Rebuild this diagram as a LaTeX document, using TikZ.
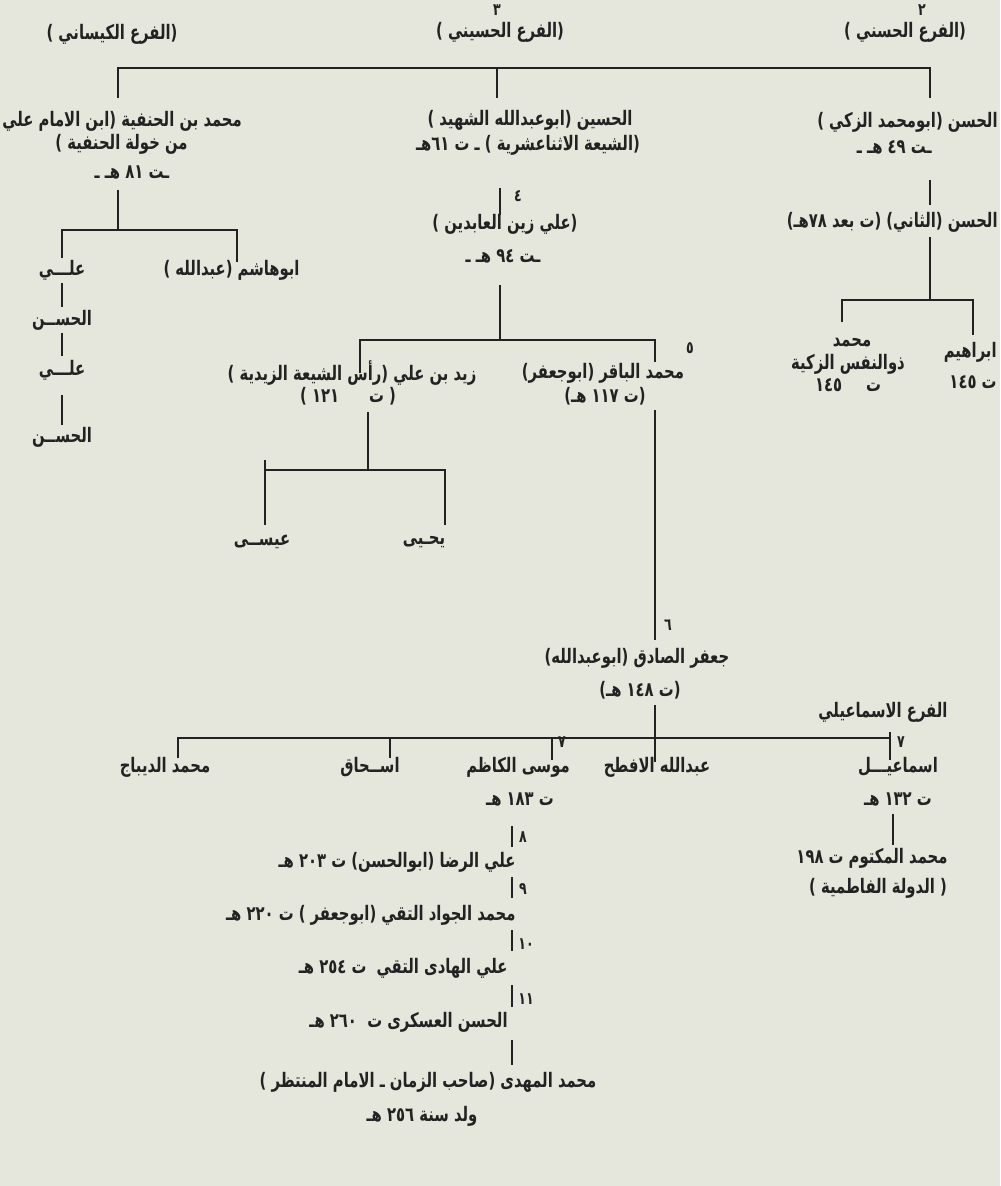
\documentclass[tikz,border=0pt]{standalone}
\usepackage{fontspec}
\TeXXeTstate=1
\newfontfamily\ar[Script=Arabic, FakeStretch=0.74]{DejaVu Sans}
\definecolor{paper}{HTML}{E5E6DC}
\definecolor{ink}{HTML}{222222}
\newcommand\AR[1]{\beginR #1\endR}
\begin{document}
\begin{tikzpicture}[x=0.5pt,y=-0.5pt,
  t/.style={font=\ar\bfseries\fontsize{10}{11}\selectfont, text=ink, inner sep=0pt},
  num/.style={font=\ar\bfseries\fontsize{8.5}{9}\selectfont, text=ink, inner sep=0pt},
  ln/.style={draw=ink, line width=1pt}]
\fill[paper] (0,0) rectangle (1000,1186);
\useasboundingbox (0,0) rectangle (1000,1186);

% top labels
\node[num] (n2) at (922,10) {\AR{٢}};
\node[t] (lab2) at (905,32) {\AR{(الفرع الحسني )}};
\node[num] (n3) at (497,10) {\AR{٣}};
\node[t] (lab3) at (500,32) {\AR{(الفرع الحسيني )}};
\node[t] (lab1) at (112,34) {\AR{(الفرع الكيساني )}};

% main bracket
\coordinate (bL) at (118,68); \coordinate (bM) at (497,68); \coordinate (bR) at (930,68);
\coordinate (bLd) at (118,98); \coordinate (bMd) at (497,98); \coordinate (bRd) at (930,98);
\draw[ln] (bLd) -- (bL) -- (bR) -- (bRd);
\draw[ln] (bM) -- (bMd);

% row 1
\node[t, anchor=east] (hasan) at (998,122) {\AR{الحسن (ابومحمد الزكي )}};
\node[t, anchor=east] (hasand) at (932,147) {\AR{ـت ٤٩ هـ ـ}};
\node[t] (husayn) at (530,120) {\AR{الحسين (ابوعبدالله الشهيد )}};
\node[t] (husaynb) at (528,145) {\AR{(الشيعة الاثناعشرية ) ـ ت ٦١هـ}};
\node[t, anchor=west] (hanaf) at (2,121) {\AR{محمد بن الحنفية (ابن الامام علي}};
\node[t, anchor=east] (hanafb) at (188,144) {\AR{من خولة الحنفية )}};
\node[t] (hanafd) at (132,172) {\AR{ـت ٨١ هـ ـ}};

% Hasan line
\coordinate (h1) at (930,180); \coordinate (h2) at (930,205);
\draw[ln] (h1) -- (h2);
\node[t, anchor=east] (hasan2) at (998,222) {\AR{الحسن (الثاني) (ت بعد ٧٨هـ)}};
\coordinate (h3) at (930,237); \coordinate (h4) at (930,300);
\coordinate (hbL) at (842,300); \coordinate (hbR) at (973,300);
\coordinate (hbLd) at (842,322); \coordinate (hbRd) at (973,335);
\draw[ln] (h3) -- (h4);
\draw[ln] (hbLd) -- (hbL) -- (hbR) -- (hbRd);
\node[t, anchor=east] (ibr) at (997,352) {\AR{ابراهيم}};
\node[t, anchor=east] (ibrd) at (997,382) {\AR{ت ١٤٥}};
\node[t] (mhd) at (852,343) {\AR{محمد}};
\node[t] (mhd2) at (848,364) {\AR{ذوالنفس الزكية}};
\node[t] (mhd3) at (848,385) {\AR{ت\hspace{1.2em}١٤٥}};

% Kaysani line
\coordinate (k1) at (118,190); \coordinate (k2) at (118,230);
\draw[ln] (k1) -- (k2);
\coordinate (kbL) at (62,230); \coordinate (kbR) at (237,230);
\coordinate (kbLd) at (62,258); \coordinate (kbRd) at (237,262);
\draw[ln] (kbLd) -- (kbL) -- (kbR) -- (kbRd);
\node[t] (ali1) at (62,270) {\AR{علـــي}};
\node[t, anchor=east] (abuh) at (300,270) {\AR{ابوهاشم (عبدالله )}};
\coordinate (k3) at (62,283); \coordinate (k4) at (62,307);
\draw[ln] (k3) -- (k4);
\node[t] (hasan3) at (62,320) {\AR{الحســن}};
\coordinate (k5) at (62,333); \coordinate (k6) at (62,356);
\draw[ln] (k5) -- (k6);
\node[t] (ali2) at (62,370) {\AR{علـــي}};
\coordinate (k7) at (62,395); \coordinate (k8) at (62,425);
\draw[ln] (k7) -- (k8);
\node[t] (hasan4) at (62,437) {\AR{الحســن}};

% Husayni line
\coordinate (m1) at (500,188); \coordinate (m2) at (500,215);
\draw[ln] (m1) -- (m2);
\node[num] (n4) at (518,196) {\AR{٤}};
\node[t] (zain) at (505,224) {\AR{(علي زين العابدين )}};
\node[t] (zaind) at (503,256) {\AR{ـت ٩٤ هـ ـ}};
\coordinate (m3) at (500,285); \coordinate (m4) at (500,340);
\draw[ln] (m3) -- (m4);
\coordinate (mbL) at (360,340); \coordinate (mbR) at (655,340);
\coordinate (mbLd) at (360,373); \coordinate (mbRd) at (655,362);
\draw[ln] (mbLd) -- (mbL) -- (mbR) -- (mbRd);
\node[num] (n5) at (690,348) {\AR{٥}};
\node[t] (baqir) at (603,373) {\AR{محمد الباقر (ابوجعفر)}};
\node[t] (baqird) at (605,396) {\AR{(ت ١١٧ هـ)}};
\node[t] (zayd) at (352,373) {\AR{زيد بن علي (رأس الشيعة الزيدية )}};
\node[t] (zaydd) at (348,396) {\AR{( ت\hspace{1.5em}١٢١ )}};

% Zayd children
\coordinate (z1) at (368,412); \coordinate (z2) at (368,470);
\draw[ln] (z1) -- (z2);
\coordinate (zbL) at (265,470); \coordinate (zbR) at (445,470);
\coordinate (zbLu) at (265,460); \coordinate (zbLd) at (265,525); \coordinate (zbRd) at (445,525);
\draw[ln] (zbLu) -- (zbLd);
\draw[ln] (zbL) -- (zbR) -- (zbRd);
\node[t] (isa) at (262,542) {\AR{عيســى}};
\node[t] (yahya) at (424,542) {\AR{يحـيى}};

% Jafar
\coordinate (j1) at (655,410); \coordinate (j2) at (655,640);
\draw[ln] (j1) -- (j2);
\node[num] (n6) at (668,625) {\AR{٦}};
\node[t] (jafar) at (637,658) {\AR{جعفر الصادق (ابوعبدالله)}};
\node[t] (jafard) at (640,690) {\AR{(ت ١٤٨ هـ)}};
\node[t] (ismlab) at (883,712) {\AR{الفرع الاسماعيلي}};

% big bracket
\coordinate (j3) at (655,705); \coordinate (j4) at (655,762);
\draw[ln] (j3) -- (j4);
\coordinate (gL) at (178,738); \coordinate (gR) at (890,738);
\coordinate (gLd) at (178,758);
\coordinate (gI) at (390,738); \coordinate (gId) at (390,758);
\coordinate (gM) at (552,738); \coordinate (gMd) at (552,760);
\coordinate (gRu) at (890,732); \coordinate (gRd) at (890,760);
\draw[ln] (gLd) -- (gL) -- (gR);
\draw[ln] (gRu) -- (gRd);
\draw[ln] (gI) -- (gId);
\draw[ln] (gM) -- (gMd);
\node[t] (dibaj) at (165,767) {\AR{محمد الديباج}};
\node[t] (ishaq) at (370,767) {\AR{اســحاق}};
\node[num] (n7a) at (562,742) {\AR{٧}};
\node[t] (musa) at (518,767) {\AR{موسى الكاظم}};
\node[t] (aftah) at (657,767) {\AR{عبدالله الافطح}};
\node[num] (n7b) at (901,742) {\AR{٧}};
\node[t] (ismail) at (898,767) {\AR{اسماعيـــل}};
\node[t] (musad) at (520,799) {\AR{ت ١٨٣ هـ}};
\node[t] (ismaild) at (898,799) {\AR{ت ١٣٢ هـ}};
\coordinate (s1) at (893,814); \coordinate (s2) at (893,845);
\draw[ln] (s1) -- (s2);
\node[t] (maktum) at (872,858) {\AR{محمد المكتوم ت ١٩٨}};
\node[t] (fatimid) at (878,888) {\AR{( الدولة الفاطمية )}};

% imams chain
\coordinate (c1) at (512,826); \coordinate (c2) at (512,847);
\draw[ln] (c1) -- (c2);
\node[num] (n8) at (523,837) {\AR{٨}};
\node[t, anchor=east] (rida) at (516,862) {\AR{علي الرضا (ابوالحسن) ت ٢٠٣ هـ}};
\coordinate (c3) at (512,877); \coordinate (c4) at (512,898);
\draw[ln] (c3) -- (c4);
\node[num] (n9) at (523,889) {\AR{٩}};
\node[t, anchor=east] (jawad) at (516,915) {\AR{محمد الجواد التقي (ابوجعفر ) ت ٢٢٠ هـ}};
\coordinate (c5) at (512,930); \coordinate (c6) at (512,951);
\draw[ln] (c5) -- (c6);
\node[num] (n10) at (526,944) {\AR{١٠}};
\node[t, anchor=east] (hadi) at (508,968) {\AR{علي الهادى التقي\ \ ت ٢٥٤ هـ}};
\coordinate (c7) at (512,985); \coordinate (c8) at (512,1007);
\draw[ln] (c7) -- (c8);
\node[num] (n11) at (526,999) {\AR{١١}};
\node[t, anchor=east] (askari) at (508,1022) {\AR{الحسن العسكرى ت\ \ ٢٦٠ هـ}};
\coordinate (c9) at (512,1040); \coordinate (c10) at (512,1065);
\draw[ln] (c9) -- (c10);
\node[t] (mahdi) at (428,1082) {\AR{محمد المهدى (صاحب الزمان ـ الامام المنتظر )}};
\node[t] (born) at (422,1116) {\AR{ولد سنة ٢٥٦ هـ}};
\end{tikzpicture}
\end{document}
